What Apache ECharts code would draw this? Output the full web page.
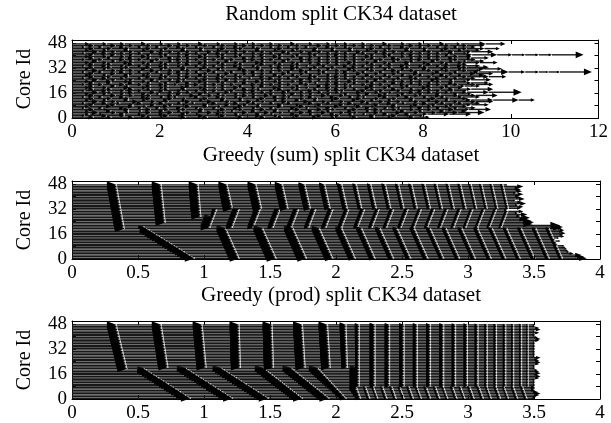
<!DOCTYPE html>
<html><head><meta charset="utf-8">
<script src="https://cdn.jsdelivr.net/npm/echarts@6/dist/echarts.min.js"></script>
<style>html,body{margin:0;padding:0;background:#fff}#c{width:611px;height:423px}</style>
</head><body><div id="c"></div>
<script>
// ---------- titles / axes ----------
const panelTitles = ['Random split CK34 dataset', 'Greedy (sum) split CK34 dataset', 'Greedy (prod) split CK34 dataset'];
const xMaxes = [12, 4, 4];
const xIntervals = [2, 0.5, 0.5];
const yTickLabels = [0, 16, 32, 48];

// ---------- panel 1: random split, task end times per core (core 0 .. 47) ----------
const randomEnds = [
[0.5,0.9,1.4,1.8,2.1,2.6,3.1,3.4,3.9,4.4,4.8,5.1,5.6,6.0,6.5,6.9,7.3,7.8,8.15],
[0.3,0.8,1.2,1.7,2.2,2.5,3.0,3.5,3.8,4.3,4.7,5.2,5.7,6.1,6.4,6.9,7.4,7.7,8.0],
[0.4,0.7,1.2,1.6,2.1,2.6,2.9,3.4,3.8,4.3,4.6,5.1,5.5,6.0,6.4,6.7,7.2,7.7,8.1,8.6,9.1],
[0.6,1.0,1.3,1.8,2.3,2.7,3.2,3.5,4.0,4.5,4.8,5.3,5.8,6.2,6.5,7.0,7.5,7.9,8.3,8.8,9.4],
[0.4,0.9,1.3,1.6,2.1,2.5,3.0,3.4,3.7,4.2,4.7,5.0,5.5,5.9,6.4,6.8,7.1,7.6,8.0,8.5,9.0],
[0.5,0.8,1.3,1.8,2.2,2.6,3.0,3.5,3.9,4.4,4.7,5.2,5.7,6.0,6.5,7.0,7.4,7.8,8.2,8.7,9.05,9.55],
[0.3,0.7,1.2,1.6,2.0,2.5,2.9,3.3,3.8,4.2,4.6,5.1,5.4,5.9,6.3,6.8,7.2,7.5,8.0,8.4,8.8,9.2],
[0.4,0.9,1.4,1.7,2.2,2.7,3.1,3.4,3.9,4.3,4.8,5.3,5.6,6.1,6.6,6.9,7.4,7.8,8.2,8.6,9.0],
[0.5,1.0,1.4,1.9,2.3,2.6,3.1,3.6,4.0,4.3,4.8,5.2,5.7,6.2,6.5,7.0,7.4,7.9,8.3,8.7,9.1,9.5],
[0.3,0.8,1.1,1.6,2.1,2.5,2.8,3.3,3.8,4.2,4.6,5.0,5.5,5.9,6.4,6.8,7.3,7.6,8.1,8.5,8.9,9.3],
[0.6,1.0,1.5,1.9,2.2,2.7,3.2,3.6,4.1,4.4,4.9,5.4,5.8,6.2,6.7,7.1,7.5,7.9,8.4,8.8,9.2,9.6],
[0.4,0.8,1.3,1.7,2.2,2.6,3.0,3.5,3.9,4.3,4.7,5.2,5.6,6.0,6.5,6.9,7.3,7.8,8.2,8.6,9.1,9.6,10.18,10.55],
[0.5,0.9,1.3,1.8,2.3,2.6,3.1,3.5,3.9,4.4,4.9,5.3,5.6,6.1,6.6,7.0,7.4,7.8,8.3,8.6,9.0],
[0.3,0.7,1.2,1.7,2.1,2.4,2.9,3.4,3.8,4.2,4.7,5.0,5.5,6.0,6.4,6.7,7.2,7.7,8.1,8.5,8.9,9.3],
[0.5,1.0,1.4,1.8,2.3,2.8,3.2,3.5,4.0,4.5,4.9,5.3,5.8,6.2,6.6,7.1,7.5,7.9,8.4,8.8,9.2,9.7],
[0.4,0.8,1.2,1.7,2.0,2.5,3.0,3.4,3.8,4.2,4.6,5.1,5.5,5.9,6.3,6.8,7.2,7.6,8.0,8.4,8.8,9.1],
[0.6,0.9,1.4,1.9,2.3,2.7,3.1,3.6,4.0,4.4,4.9,5.3,5.7,6.1,6.6,7.0,7.3,7.8,8.2,8.6,9.0,9.5,10.25],
[0.3,0.8,1.2,1.6,2.1,2.5,2.9,3.3,3.7,4.2,4.6,5.0,5.5,5.9,6.2,6.7,7.1,7.5,8.0,8.4,8.7,9.0],
[0.5,0.9,1.4,1.8,2.2,2.6,3.1,3.5,4.0,4.3,4.8,5.2,5.6,6.1,6.5,6.9,7.4,7.8,8.2,8.7,9.1,9.6],
[0.4,0.8,1.3,1.7,2.1,2.6,3.0,3.3,3.8,4.2,4.7,5.1,5.4,5.9,6.3,6.8,7.2,7.6,8.1,8.5,8.9],
[0.5,1.0,1.3,1.8,2.2,2.7,3.1,3.5,3.9,4.4,4.8,5.2,5.7,6.1,6.4,6.9,7.3,7.7,8.2,8.6,8.95,9.3],
[0.3,0.7,1.2,1.6,2.1,2.4,2.9,3.3,3.7,4.2,4.6,5.0,5.4,5.9,6.3,6.7,7.1,7.6,8.0,8.4,8.8,9.2,9.6],
[0.5,0.9,1.4,1.8,2.2,2.7,3.1,3.5,4.0,4.4,4.8,5.3,5.6,6.1,6.5,6.9,7.4,7.8,8.2,8.7,9.1,9.5],
[0.4,0.9,1.3,1.7,2.0,2.5,3.0,3.4,3.8,4.3,4.7,5.1,5.5,5.9,6.4,6.8,7.2,7.6,8.0,8.4,8.7,9.0],
[0.6,1.0,1.4,1.9,2.3,2.6,3.1,3.6,4.0,4.4,4.8,5.3,5.7,6.1,6.5,7.0,7.4,7.8,8.3,8.7,9.1,9.55],
[0.3,0.8,1.2,1.6,2.1,2.5,2.9,3.4,3.8,4.1,4.6,5.0,5.5,5.9,6.3,6.7,7.1,7.5,7.9,8.4,8.8,9.2],
[0.5,0.9,1.3,1.8,2.2,2.7,3.1,3.5,3.9,4.4,4.8,5.2,5.6,6.1,6.5,6.9,7.3,7.8,8.2,8.6,9.0,9.5,9.9],
[0.4,0.8,1.3,1.7,2.1,2.5,3.0,3.4,3.8,4.2,4.7,5.1,5.5,5.9,6.3,6.8,7.2,7.6,8.0,8.5,8.9,9.4],
[0.5,1.0,1.4,1.8,2.3,2.7,3.1,3.6,4.0,4.4,4.9,5.3,5.7,6.1,6.6,7.0,7.4,7.9,8.3,8.7,9.2,9.6],
[0.3,0.7,1.2,1.6,2.0,2.5,2.9,3.3,3.7,4.2,4.6,5.0,5.4,5.8,6.3,6.7,7.1,7.5,7.9,8.4,8.8,9.27,9.95,10.33,10.64,10.86,11.12,11.85],
[0.6,1.0,1.4,1.9,2.3,2.7,3.2,3.5,4.0,4.4,4.8,5.3,5.7,6.1,6.5,6.9,7.4,7.8,8.2,8.6,9.0,9.3],
[0.4,0.8,1.2,1.7,2.1,2.6,3.0,3.4,3.9,4.3,4.6,5.1,5.5,5.9,6.4,6.8,7.2,7.6,8.1,8.5,8.9,9.4,9.8],
[0.5,0.9,1.3,1.8,2.2,2.6,3.1,3.5,3.9,4.3,4.8,5.2,5.6,6.0,6.5,6.9,7.3,7.7,8.1,8.6,9.0,9.5],
[0.3,0.8,1.2,1.6,2.1,2.5,2.9,3.3,3.8,4.2,4.6,5.1,5.4,5.8,6.3,6.7,7.1,7.6,8.0,8.4,8.9,9.3],
[0.5,0.9,1.4,1.8,2.2,2.7,3.1,3.5,3.9,4.4,4.8,5.2,5.7,6.1,6.5,6.9,7.3,7.7,8.2,8.6,9.0],
[0.4,0.8,1.3,1.7,2.1,2.5,3.0,3.4,3.8,4.3,4.7,5.1,5.5,5.9,6.4,6.8,7.2,7.7,8.1,8.5,8.9,9.3,9.7],
[0.6,1.0,1.4,1.9,2.3,2.7,3.1,3.6,4.0,4.4,4.9,5.3,5.7,6.1,6.5,7.0,7.4,7.8,8.3,8.7,9.0,9.4],
[0.3,0.7,1.2,1.6,2.0,2.5,2.9,3.3,3.7,4.2,4.6,5.0,5.5,5.9,6.3,6.7,7.1,7.5,8.0,8.4,8.8,9.2],
[0.5,0.9,1.4,1.8,2.3,2.7,3.1,3.5,4.0,4.4,4.8,5.3,5.7,6.1,6.5,6.9,7.4,7.8,8.2,8.7,9.1,9.5],
[0.4,0.8,1.2,1.7,2.1,2.5,3.0,3.4,3.8,4.2,4.7,5.1,5.5,5.9,6.3,6.8,7.2,7.6,8.0,8.4,8.8,9.1],
[0.5,1.0,1.4,1.8,2.2,2.7,3.1,3.5,3.9,4.4,4.8,5.2,5.6,6.1,6.5,6.9,7.3,7.8,8.2,8.6,9.12,9.69,10.03,10.33,10.64,10.94,11.66],
[0.3,0.8,1.2,1.6,2.1,2.5,2.9,3.4,3.8,4.2,4.6,5.0,5.5,5.9,6.3,6.7,7.2,7.6,8.0,8.4,8.7,9.0],
[0.6,1.0,1.4,1.9,2.3,2.7,3.2,3.6,4.0,4.4,4.9,5.3,5.7,6.1,6.6,7.0,7.4,7.8,8.2,8.7,9.1,9.6],
[0.4,0.8,1.3,1.7,2.1,2.6,3.0,3.4,3.8,4.3,4.7,5.1,5.6,6.0,6.4,6.8,7.2,7.7,8.1,8.5,8.9,9.3],
[0.5,0.9,1.3,1.8,2.2,2.6,3.0,3.5,3.9,4.3,4.8,5.2,5.6,6.0,6.4,6.9,7.3,7.7,8.1,8.6,9.0,9.4,9.75],
[0.3,0.7,1.2,1.6,2.0,2.5,2.9,3.3,3.8,4.2,4.6,5.0,5.4,5.9,6.3,6.7,7.1,7.6,8.0,8.4,8.8,9.2],
[0.5,1.0,1.4,1.8,2.3,2.7,3.1,3.5,4.0,4.4,4.8,5.2,5.7,6.1,6.5,6.9,7.3,7.8,8.2,8.6,9.0,9.4],
[0.4,0.8,1.2,1.7,2.1,2.5,3.0,3.4,3.8,4.2,4.6,5.1,5.5,5.9,6.3,6.7,7.2,7.6,8.0,8.5,8.86,9.43,9.88]
];

// ---------- panel 2: greedy (sum) ----------
// finish time per core (core 0 .. 47)
const sumFinish = [3.90,3.88,3.86,3.80,3.77,3.76,3.75,3.74,3.73,3.68,3.67,3.70,3.66,3.69,3.73,3.72,
  3.74,3.72,3.73,3.71,3.72,3.70,3.49,3.50,3.48,3.44,3.47,3.40,3.45,3.38,3.42,3.30,
  3.40,3.42,3.38,3.44,3.41,3.36,3.43,3.40,3.39,3.42,3.37,3.41,3.40,3.39,3.42,3.30];
// visible task-boundary fronts: [lowest core, highest core, time at lowest, time at highest]
const sumFronts = [
  [19,47,0.40,0.34],[23,47,0.71,0.68],[27,47,0.98,0.96],[0,20,0.93,0.55],
  [32,47,1.22,1.18],[32,47,1.44,1.40],[32,47,1.64,1.60],[32,47,1.81,1.77],[32,47,1.96,1.92],[32,47,2.09,2.05],
  [32,47,2.20,2.16],[32,47,2.31,2.27],[32,47,2.42,2.38],[32,47,2.52,2.48],[32,47,2.62,2.58],[32,47,2.72,2.68],
  [32,47,2.81,2.77],[32,47,2.90,2.86],[32,47,2.99,2.95],[32,47,3.07,3.03],[32,47,3.15,3.11],[32,47,3.23,3.19],[32,47,3.31,3.27],
  [20,31,1.05,1.10],[20,31,1.22,1.27],[20,31,1.38,1.43],[20,31,1.53,1.58],[20,31,1.67,1.72],[20,31,1.80,1.85],
  [20,31,1.93,1.98],[20,31,2.05,2.10],[20,31,2.17,2.22],[20,31,2.28,2.33],[20,31,2.39,2.44],[20,31,2.50,2.55],
  [20,31,2.60,2.65],[20,31,2.70,2.75],[20,31,2.80,2.85],[20,31,2.90,2.95],[20,31,2.99,3.04],[20,31,3.08,3.13],[20,31,3.17,3.22],[20,31,3.26,3.31],
  [0,19,1.27,1.17],[0,19,1.55,1.45],[0,19,1.78,1.68],[0,19,1.98,1.88],[0,19,2.15,2.05],[0,19,2.30,2.20],
  [0,19,2.44,2.34],[0,19,2.57,2.47],[0,19,2.70,2.60],[0,19,2.82,2.72],[0,19,2.94,2.84],[0,19,3.06,2.96],
  [0,19,3.18,3.08],[0,19,3.29,3.19],[0,19,3.40,3.30],[0,19,3.51,3.41],[0,19,3.62,3.52],[0,19,3.72,3.62]
];

// ---------- panel 3: greedy (prod) ----------
const prodFinish = [3.51,3.52,3.54,3.55,3.53,3.51,3.51,3.51,3.51,3.51,3.51,3.51,3.51,3.54,3.55,3.53,
  3.55,3.54,3.53,3.51,3.51,3.51,3.54,3.55,3.54,3.53,3.55,3.51,3.51,3.51,3.51,3.51,
  3.51,3.51,3.51,3.51,3.51,3.54,3.55,3.53,3.51,3.51,3.54,3.51,3.55,3.54,3.51,3.51];
const prodFronts = [
  [19,47,0.42,0.34],[20,47,0.73,0.68],[20,47,1.02,0.99],[20,47,1.28,1.27],[20,47,1.53,1.52],
  [20,47,1.77,1.75],[20,47,1.96,1.94],[20,47,2.09,2.08],
  [0,19,0.90,0.55],[0,19,1.22,0.87],[0,19,1.49,1.14],[0,19,1.75,1.46],[0,19,1.95,1.67],[0,19,2.08,1.87],
  [8,47,2.18,2.18],[8,47,2.30,2.30],[8,47,2.41,2.41],[8,47,2.52,2.52],[8,47,2.62,2.62],[8,47,2.72,2.72],
  [8,47,2.82,2.82],[8,47,2.91,2.91],[8,47,3.00,3.00],[8,47,3.08,3.08],[8,47,3.15,3.15],[8,47,3.22,3.22],
  [8,47,3.29,3.29],[8,47,3.35,3.35],[8,47,3.41,3.41],[8,47,3.46,3.46],
  [0,7,2.19,2.16],[0,7,2.26,2.23],[0,7,2.32,2.29],[0,7,2.39,2.36],[0,7,2.46,2.43],[0,7,2.52,2.49],
  [0,7,2.59,2.56],[0,7,2.65,2.62],[0,7,2.72,2.69],[0,7,2.79,2.76],[0,7,2.85,2.82],[0,7,2.92,2.89],
  [0,7,2.98,2.95],[0,7,3.05,3.02],[0,7,3.12,3.09],[0,7,3.18,3.15],[0,7,3.25,3.22],[0,7,3.31,3.28],
  [0,7,3.38,3.35],[0,7,3.45,3.42]
];

// ---------- build task lists ----------
function tasksFromEnds(ends) {
  const out = [];
  ends.forEach((list, core) => {
    let s = 0;
    list.forEach(e => { out.push([core, s, e]); s = e; });
  });
  return out;
}
function tasksFromFronts(fronts, finish) {
  const out = [];
  for (let c = 0; c < finish.length; c++) {
    const b = [];
    fronts.forEach(f => {
      if (c >= f[0] && c <= f[1]) {
        const t = f[1] === f[0] ? f[2] : f[2] + (f[3] - f[2]) * (c - f[0]) / (f[1] - f[0]);
        if (t < finish[c] - 0.015) b.push(t);
      }
    });
    b.sort((a, b2) => a - b2);
    b.push(finish[c]);
    let s = 0;
    b.forEach(e => { if (e > s) { out.push([c, s, e]); s = e; } });
  }
  return out;
}
const panelData = [
  tasksFromEnds(randomEnds),
  tasksFromFronts(sumFronts, sumFinish),
  tasksFromFronts(prodFronts, prodFinish)
];

// ---------- chart ----------
const FONT = 'Liberation Serif';
const gridTops = [40, 181, 321];
const GRID_H = 78;
const headScale = [0.25, 0.32, 0.38];

function makeRender(k) {
  return function (params, api) {
    const c = api.value(0), s = api.value(1), e = api.value(2);
    const p0 = api.coord([s, c + 0.5]);
    const p1 = api.coord([e, c + 0.5]);
    const len = p1[0] - p0[0];
    const L = Math.max(2, Math.min(10, len * headScale[k]));
    const H = L * (k === 0 ? 0.42 : 0.36);
    const th = 1.4;
    return {
      type: 'group',
      children: [
        { type: 'rect', shape: { x: p0[0], y: p0[1] - th / 2, width: Math.max(0, len - L * 0.5), height: th },
          style: { fill: '#181818' } },
        { type: 'polygon', shape: { points: [[p1[0] - L, p1[1] - H], [p1[0], p1[1]], [p1[0] - L, p1[1] + H]] },
          style: { fill: '#000' } }
      ]
    };
  };
}

const option = {
  animation: false,
  backgroundColor: '#fff',
  title: panelTitles.map((t, i) => ({
    text: t, left: 336, textAlign: 'center', top: gridTops[i] - 41,
    textStyle: { fontFamily: FONT, fontSize: 21, fontWeight: 'normal', color: '#000' }
  })),
  grid: gridTops.map(t => ({ left: 72, width: 528, top: t, height: GRID_H, show: false })),
  xAxis: [],
  yAxis: [],
  series: []
};
for (let i = 0; i < 3; i++) {
  const common = { type: 'value', gridIndex: i, min: 0, max: xMaxes[i], interval: xIntervals[i],
    splitLine: { show: false }, axisLine: { show: true, onZero: false, lineStyle: { color: '#000', width: 1 } },
    axisTick: { show: true, inside: true, length: 4, lineStyle: { color: '#000' } } };
  option.xAxis.push(Object.assign({}, common, { position: 'bottom',
    axisLabel: { show: true, fontFamily: FONT, fontSize: 19, color: '#000', margin: 5 } }));
  option.xAxis.push(Object.assign({}, common, { position: 'top', axisLabel: { show: false } }));
  const ycommon = { type: 'value', gridIndex: i, min: 0, max: 50, interval: 8,
    splitLine: { show: false }, axisLine: { show: true, onZero: false, lineStyle: { color: '#000', width: 1 } },
    axisTick: { show: true, inside: true, length: 4, lineStyle: { color: '#000' } } };
  option.yAxis.push(Object.assign({}, ycommon, { position: 'left',
    name: 'Core Id', nameLocation: 'middle', nameGap: 37, nameRotate: 90,
    nameTextStyle: { fontFamily: FONT, fontSize: 20, color: '#000' },
    axisLabel: { show: true, fontFamily: FONT, fontSize: 19, color: '#000', margin: 5,
      formatter: v => (yTickLabels.indexOf(v) >= 0 ? String(v) : '') } }));
  option.yAxis.push(Object.assign({}, ycommon, { position: 'right', axisLabel: { show: false } }));
  option.series.push({
    type: 'custom', xAxisIndex: i * 2, yAxisIndex: i * 2,
    renderItem: makeRender(i), encode: { x: [1, 2], y: 0 },
    data: panelData[i], z: 1
  });
}
const chart = echarts.init(document.getElementById('c'), null, { renderer: 'canvas' });
chart.setOption(option);
</script></body></html>
